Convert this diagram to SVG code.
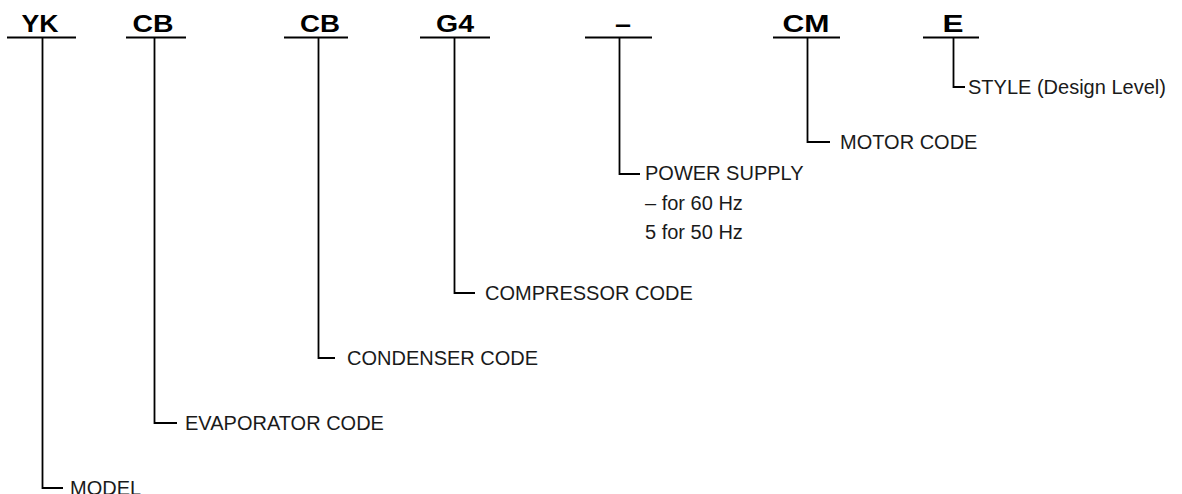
<svg xmlns="http://www.w3.org/2000/svg" width="1182" height="494" viewBox="0 0 1182 494">
<style>
.code{font-family:"Liberation Sans",Arial,sans-serif;font-weight:bold;font-size:24px;fill:#000;text-anchor:middle}
.lbl{font-family:"Liberation Sans",Arial,sans-serif;font-size:20px;fill:#1a1a1a}
.ln{stroke:#000;stroke-width:1.8;fill:none}
</style>
<rect width="1182" height="494" fill="#fff"/>
<g id="node-yk"><text class="code" x="40" y="32" textLength="37" lengthAdjust="spacingAndGlyphs">YK</text><line class="ln" x1="7" y1="37.5" x2="76" y2="37.5"/></g>
<g id="node-cb1"><text class="code" x="153" y="32" textLength="41" lengthAdjust="spacingAndGlyphs">CB</text><line class="ln" x1="126" y1="37.5" x2="186" y2="37.5"/></g>
<g id="node-cb2"><text class="code" x="320" y="32" textLength="40" lengthAdjust="spacingAndGlyphs">CB</text><line class="ln" x1="284" y1="37.5" x2="348" y2="37.5"/></g>
<g id="node-g4"><text class="code" x="455" y="32" textLength="38" lengthAdjust="spacingAndGlyphs">G4</text><line class="ln" x1="420" y1="37.5" x2="490" y2="37.5"/></g>
<g id="node-dash"><text class="code" x="623" y="32" textLength="16" lengthAdjust="spacingAndGlyphs">–</text><line class="ln" x1="585" y1="37.5" x2="652" y2="37.5"/></g>
<g id="node-cm"><text class="code" x="806" y="32" textLength="47" lengthAdjust="spacingAndGlyphs">CM</text><line class="ln" x1="773" y1="37.5" x2="840" y2="37.5"/></g>
<g id="node-e"><text class="code" x="953" y="32" textLength="21" lengthAdjust="spacingAndGlyphs">E</text><line class="ln" x1="923" y1="37.5" x2="979" y2="37.5"/></g>
<g id="connectors">
<polyline class="ln" points="42.5,37.5 42.5,488 63,488"/>
<polyline class="ln" points="154.5,37.5 154.5,423 177,423"/>
<polyline class="ln" points="318.5,37.5 318.5,358 335,358"/>
<polyline class="ln" points="454.5,37.5 454.5,293 475,293"/>
<polyline class="ln" points="619.5,37.5 619.5,174 640,174"/>
<polyline class="ln" points="807.5,37.5 807.5,142 830,142"/>
<polyline class="ln" points="953.5,37.5 953.5,87 965,87"/>
</g>
<g id="label-model"><text class="lbl" x="70" y="495">MODEL</text></g>
<g id="label-evap"><text class="lbl" x="185" y="430">EVAPORATOR CODE</text></g>
<g id="label-cond"><text class="lbl" x="347" y="365">CONDENSER CODE</text></g>
<g id="label-comp"><text class="lbl" x="485" y="300">COMPRESSOR CODE</text></g>
<g id="label-power"><text class="lbl" x="645" y="180">POWER SUPPLY</text><text class="lbl" x="645" y="210">– for 60 Hz</text><text class="lbl" x="645" y="239">5 for 50 Hz</text></g>
<g id="label-motor"><text class="lbl" x="840" y="149">MOTOR CODE</text></g>
<g id="label-style"><text class="lbl" x="968" y="94">STYLE (Design Level)</text></g>
</svg>
